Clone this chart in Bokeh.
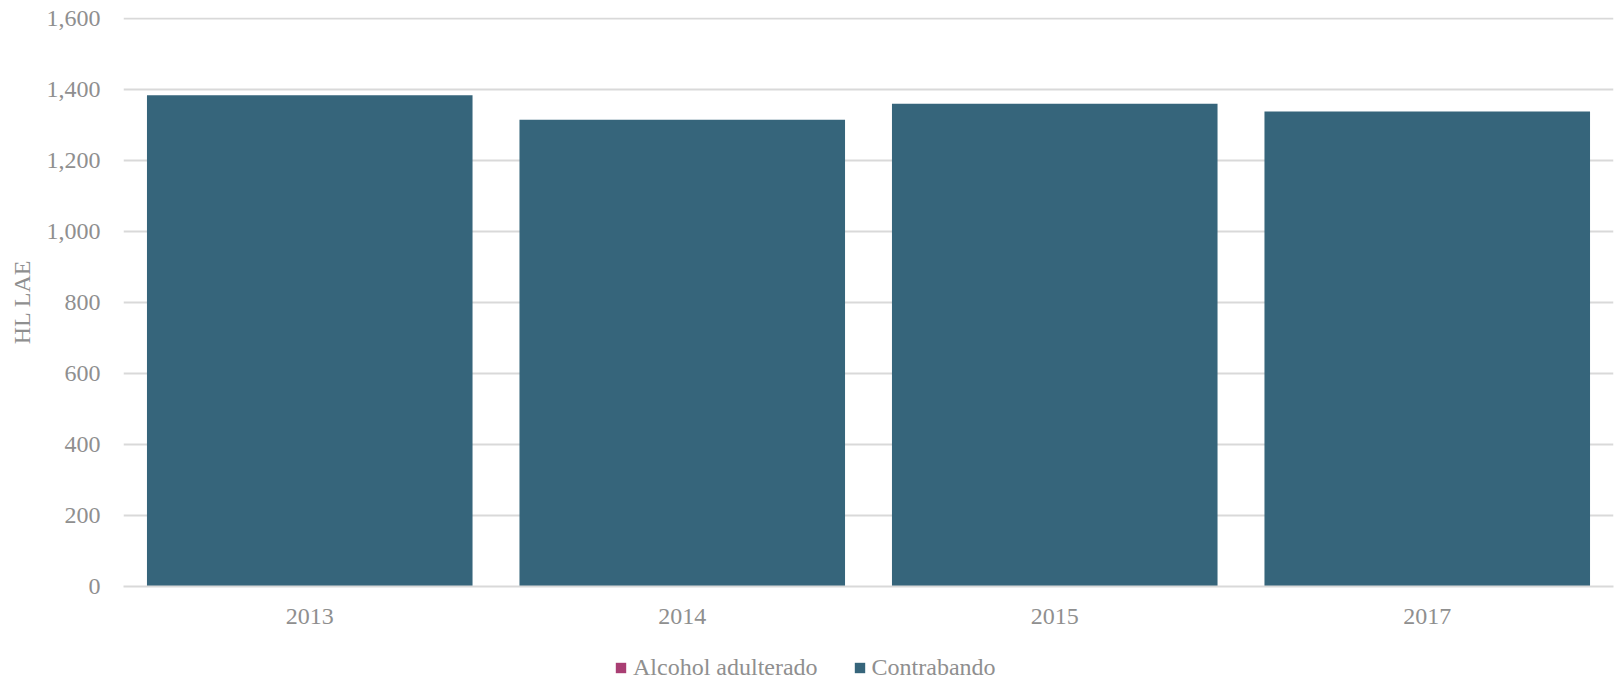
from bokeh.plotting import figure
from bokeh.layouts import column
from bokeh.models import (FactorRange, Range1d, NumeralTickFormatter, Legend, LegendItem,
                          ColumnDataSource)
from bokeh.embed import file_html
from bokeh.resources import INLINE

years = ["2013", "2014", "2015", "2017"]
alcohol_adulterado = [0, 0, 0, 0]
contrabando = [1384, 1315, 1360, 1338]
y_ticks = [0, 200, 400, 600, 800, 1000, 1200, 1400, 1600]
series_names = ["Alcohol adulterado", "Contrabando"]
series_colors = ["#A93E73", "#36657B"]

FONT = "Liberation Serif"
GRAY = "#8f8f8f"

p = figure(x_range=FactorRange(*years, range_padding=0), y_range=Range1d(0, 1603),
           frame_width=1490, frame_height=569, output_backend="svg", toolbar_location=None,
           min_border_left=123, min_border_right=1, min_border_top=17, min_border_bottom=50)
p.outline_line_color = None

src = dict(years=years, a=alcohol_adulterado, c=contrabando)
rs = p.vbar_stack(["a", "c"], x="years", width=0.874, source=src,
                  color=series_colors, line_color=None)

p.yaxis.ticker = y_ticks
p.yaxis.formatter = NumeralTickFormatter(format="0,0")
p.yaxis.axis_line_color = None
p.yaxis.major_tick_line_color = None
p.yaxis.minor_tick_line_color = None
p.yaxis.major_tick_out = 0
p.yaxis.major_tick_in = 0
p.yaxis.major_label_text_font = FONT
p.yaxis.major_label_text_font_size = "24px"
p.yaxis.major_label_text_color = GRAY
p.yaxis.major_label_standoff = 23
p.yaxis.axis_label = "HL LAE"
p.yaxis.axis_label_text_font = FONT
p.yaxis.axis_label_text_font_size = "24px"
p.yaxis.axis_label_text_font_style = "normal"
p.yaxis.axis_label_text_color = GRAY
p.yaxis.axis_label_standoff = 9

p.xaxis.axis_line_color = "#d9d9d9"
p.xaxis.axis_line_width = 2
p.xaxis.major_tick_line_color = None
p.xaxis.minor_tick_line_color = None
p.xaxis.major_tick_out = 0
p.xaxis.major_tick_in = 0
p.xaxis.major_label_text_font = FONT
p.xaxis.major_label_text_font_size = "24px"
p.xaxis.major_label_text_color = GRAY
p.xaxis.major_label_standoff = 22

p.xgrid.grid_line_color = None
p.ygrid.grid_line_color = "#d9d9d9"
p.ygrid.grid_line_width = 2

# legend strip below the chart (its frame is aligned with the chart's frame)
p2 = figure(width=1614, height=45, output_backend="svg", toolbar_location=None,
            x_axis_type=None, y_axis_type=None,
            min_border_left=0, min_border_right=0, min_border_top=0, min_border_bottom=0)
p2.outline_line_color = None
p2.grid.visible = False
items = []
for name, col in zip(series_names, series_colors):
    # zero-height swatch carrier: draws nothing, only feeds the legend its colour
    r = p2.vbar(x="x", top="top", bottom="top", width=1, color=col, line_color=None,
                source=ColumnDataSource(dict(x=[0], top=[0])))
    items.append(LegendItem(label=name, renderers=[r]))

legend = Legend(items=items, orientation="horizontal", location=(491, 0),
                label_text_font=FONT, label_text_font_size="24px", label_text_color=GRAY,
                glyph_width=13, glyph_height=13, label_standoff=6, spacing=35,
                border_line_color=None, background_fill_alpha=0, margin=0, padding=0)
p2.add_layout(legend, "center")

layout = column(p, p2, spacing=0)
open("out.html", "w").write(file_html(layout, INLINE))
